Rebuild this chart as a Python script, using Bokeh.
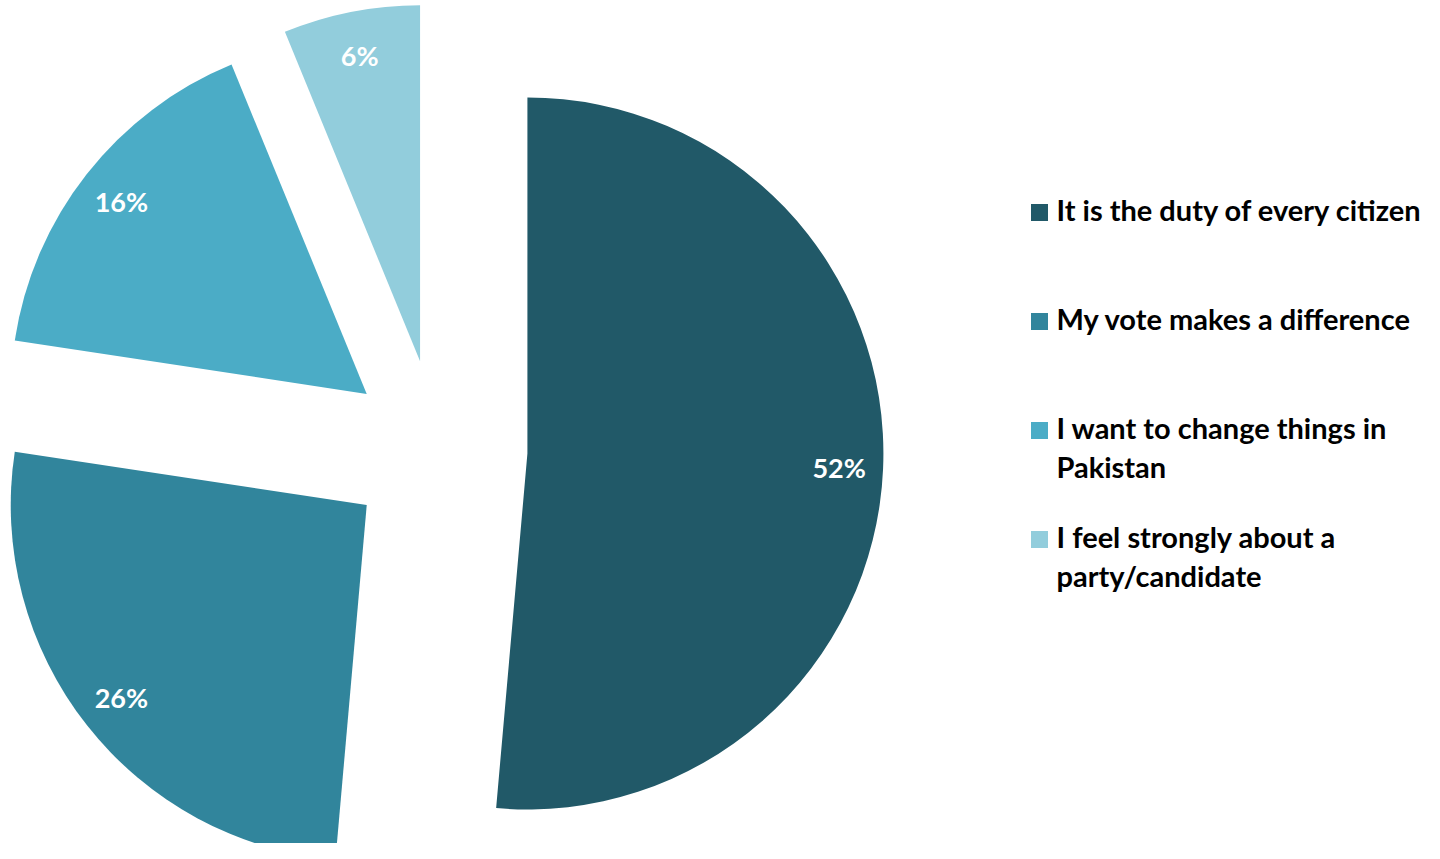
import numpy as np
from bokeh.plotting import figure
from bokeh.models import Range1d, ColumnDataSource
from bokeh.core.properties import value
from bokeh.embed import file_html
from bokeh.resources import INLINE

# ---- data ----
categories = [
    "It is the duty of every citizen",
    "My vote makes a difference",
    "I want to change things in\nPakistan",
    "I feel strongly about a\nparty/candidate",
]
shares = [51.4, 26.0, 16.4, 6.2]
pct_labels = ["52%", "26%", "16%", "6%"]
colors = ["#215968", "#31859C", "#4BACC6", "#92CDDC"]

# ---- layout ----
W, H = 1424, 843
CX, CY = 437.0, 394.0      # pie centre (data units == pixels)
R = 356.0                  # radius
EXPLODE = 90.0             # explosion distance
R_LABEL = 312.0
FONT = "Lato"

frac = np.array(shares) / np.sum(shares)
cum = np.concatenate([[0.0], np.cumsum(frac)])
cw_start = cum[:-1] * 2 * np.pi
cw_end = cum[1:] * 2 * np.pi
start_angle = np.pi / 2 - cw_end
end_angle = np.pi / 2 - cw_start
mid = np.pi / 2 - (cw_start + cw_end) / 2
x = CX + EXPLODE * np.cos(mid)
y = CY + EXPLODE * np.sin(mid)
lx = x + R_LABEL * np.cos(mid)
ly = y + R_LABEL * np.sin(mid)

src = ColumnDataSource(dict(x=x, y=y, start=start_angle, end=end_angle,
                            color=colors, lx=lx, ly=ly, lab=pct_labels))

p = figure(width=W, height=H, output_backend="svg", toolbar_location=None,
           x_range=Range1d(0, W), y_range=Range1d(0, H), min_border=0,
           tools="")
p.axis.visible = False
p.grid.visible = False
p.outline_line_color = None
p.background_fill_color = "white"
p.border_fill_color = "white"

p.wedge(x="x", y="y", radius=R, start_angle="start", end_angle="end",
        direction="anticlock", fill_color="color", line_color=None, source=src)
p.text(x="lx", y="ly", text="lab", source=src, text_color="white",
       text_font=value(FONT), text_font_style="bold", text_font_size="27px",
       text_align="center", text_baseline="middle")

# ---- legend ----
n = len(categories)
LEG_X, LEG_Y0, LEG_STEP = 1039.0, 631.0, 109.0
leg_y = LEG_Y0 - LEG_STEP * np.arange(n)
lsrc = ColumnDataSource(dict(x=[LEG_X] * n, y=leg_y, color=colors,
                             tx=[LEG_X + 17] * n, ty=leg_y + 21, txt=categories))
p.rect(x="x", y="y", width=17, height=17, fill_color="color", line_color=None,
       source=lsrc)
p.text(x="tx", y="ty", text="txt", source=lsrc, text_color="black",
       text_font=value(FONT), text_font_style="bold", text_font_size="29px",
       text_align="left", text_baseline="top", text_line_height=1.12)

open("out.html", "w").write(file_html(p, INLINE))
